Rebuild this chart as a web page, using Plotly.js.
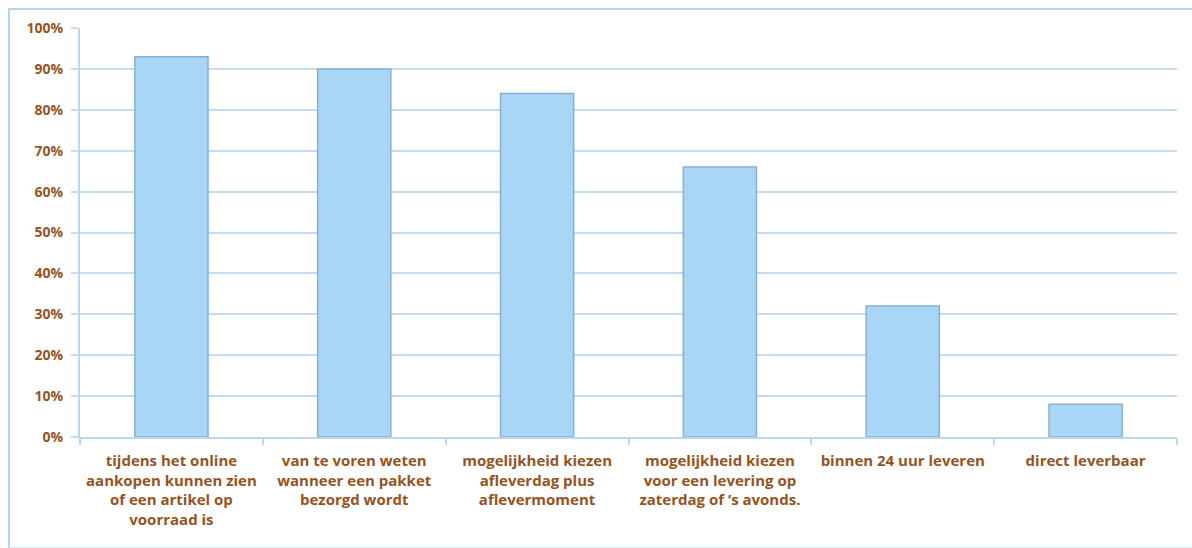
<!DOCTYPE html>
<html>
<head>
<meta charset="utf-8">
<script src="https://cdn.plot.ly/plotly-3.0.1.min.js"></script>
<style>
html,body{margin:0;padding:0;background:#fff;width:1192px;height:548px;overflow:hidden;}
#frame{position:absolute;left:8px;top:8px;width:1200px;height:537px;border-left:2px solid #b3d5f0;border-top:2px solid #b3d5f0;border-bottom:1px solid #dbe9f5;}
#chart{position:absolute;left:0;top:0;width:1192px;height:548px;}
</style>
</head>
<body>
<div id="frame"></div>
<div id="chart"></div>
<script>
const categories = [
  "tijdens het online<br>aankopen kunnen zien<br>of een artikel op<br>voorraad is",
  "van te voren weten<br>wanneer een pakket<br>bezorgd wordt",
  "mogelijkheid kiezen<br>afleverdag plus<br>aflevermoment",
  "mogelijkheid kiezen<br>voor een levering op<br>zaterdag of ’s avonds.",
  "binnen 24 uur leveren",
  "direct leverbaar"
];
const values = [0.93, 0.90, 0.84, 0.66, 0.32, 0.08];
const yTicks = [0, 0.1, 0.2, 0.3, 0.4, 0.5, 0.6, 0.7, 0.8, 0.9, 1.0];
const yTickLabels = ["0%", "10%", "20%", "30%", "40%", "50%", "60%", "70%", "80%", "90%", "100%"];

const textColor = "#95541f";
const xFont = {family: "'Open Sans', sans-serif", size: 15, color: textColor, weight: 700};
const yFont = {family: "'Open Sans', sans-serif", size: 14, color: textColor, weight: 700};

Plotly.newPlot("chart", [{
  type: "bar",
  x: categories,
  y: values,
  marker: {color: "#a9d6f7", line: {color: "#86b0d0", width: 1.5}},
  hoverinfo: "skip"
}], {
  width: 1192, height: 548,
  margin: {l: 80, r: 15, t: 28, b: 111},
  paper_bgcolor: "rgba(0,0,0,0)",
  plot_bgcolor: "rgba(0,0,0,0)",
  bargap: 0.6,
  showlegend: false,
  font: xFont,
  xaxis: {
    type: "category",
    showgrid: false,
    showline: true, linecolor: "#b9d7ef", linewidth: 2,
    ticks: "outside", tickson: "boundaries", ticklen: 6, tickcolor: "#b9d7ef", tickwidth: 2,
    ticklabelstandoff: 9,
    tickfont: xFont,
    tickangle: 0,
    automargin: false
  },
  yaxis: {
    range: [0, 1.0],
    tickvals: yTicks,
    ticktext: yTickLabels,
    showgrid: true, gridcolor: "#c3dcf1", gridwidth: 2,
    showline: true, linecolor: "#b9d7ef", linewidth: 2,
    ticks: "outside", ticklen: 7, tickcolor: "#c3dcf1", tickwidth: 2,
    ticklabelstandoff: 5,
    zeroline: false,
    tickfont: yFont,
    automargin: false
  }
}, {displayModeBar: false, staticPlot: true});
</script>
</body>
</html>
